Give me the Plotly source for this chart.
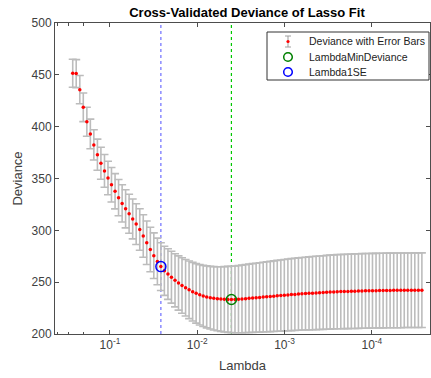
import plotly.graph_objects as go

LOG10_LAMBDA = [
    -0.573, -0.613, -0.654, -0.694, -0.735, -0.775, -0.815, -0.856, -0.896, -0.937,
    -0.977, -1.017, -1.058, -1.098, -1.139, -1.179, -1.219, -1.260, -1.300, -1.341,
    -1.381, -1.421, -1.462, -1.502, -1.543, -1.583, -1.623, -1.664, -1.704, -1.745,
    -1.785, -1.825, -1.866, -1.906, -1.947, -1.987, -2.028, -2.068, -2.108, -2.149,
    -2.189, -2.230, -2.270, -2.310, -2.351, -2.391, -2.432, -2.472, -2.512, -2.553,
    -2.593, -2.634, -2.674, -2.714, -2.755, -2.795, -2.836, -2.876, -2.916, -2.957,
    -2.997, -3.038, -3.078, -3.118, -3.159, -3.199, -3.240, -3.280, -3.320, -3.361,
    -3.401, -3.442, -3.482, -3.522, -3.563, -3.603, -3.644, -3.684, -3.725, -3.765,
    -3.805, -3.846, -3.886, -3.927, -3.967, -4.007, -4.048, -4.088, -4.129, -4.169,
    -4.209, -4.250, -4.290, -4.331, -4.371, -4.411, -4.452, -4.492, -4.533, -4.573,
]

DEVIANCE = [
    451.5, 451.2, 435.7, 418.7, 404.8, 393.0, 382.4, 373.0, 364.7, 357.3,
    350.5, 344.0, 337.7, 331.5, 326.0, 320.8, 316.0, 311.0, 306.0, 300.8,
    294.6, 288.0, 281.5, 275.5, 270.0, 265.0, 261.0, 257.8, 254.8, 251.8,
    249.2, 246.8, 244.6, 242.6, 240.8, 239.2, 237.8, 236.7, 235.8, 235.0,
    234.4, 234.0, 233.7, 233.5, 233.4, 233.3, 233.4, 233.6, 233.8, 234.1,
    234.4, 234.7, 235.0, 235.3, 235.6, 235.9, 236.2, 236.5, 236.8, 237.1,
    237.4, 237.7, 238.0, 238.2, 238.5, 238.8, 239.0, 239.2, 239.4, 239.6,
    239.8, 240.0, 240.2, 240.4, 240.6, 240.8, 240.9, 241.0, 241.1, 241.2,
    241.3, 241.4, 241.5, 241.6, 241.7, 241.8, 241.8, 241.9, 241.9, 242.0,
    242.0, 242.1, 242.1, 242.1, 242.2, 242.2, 242.2, 242.3, 242.3, 242.3,
]

SE = [
    13.5, 13.5, 13.6, 13.8, 14.0, 14.3, 14.6, 15.0, 15.4, 15.8,
    16.2, 16.6, 17.0, 17.5, 18.0, 18.4, 18.8, 19.2, 19.6, 20.0,
    20.5, 21.0, 21.5, 22.0, 22.5, 23.0, 23.7, 24.4, 25.0, 25.6,
    26.2, 26.8, 27.3, 27.8, 28.3, 28.7, 29.1, 29.5, 29.9, 30.2,
    30.6, 30.9, 31.2, 31.5, 31.8, 32.0, 32.2, 32.4, 32.6, 32.8,
    33.0, 33.15, 33.3, 33.45, 33.6, 33.75, 33.9, 34.05, 34.2, 34.35,
    34.5, 34.6, 34.7, 34.8, 34.9, 35.0, 35.1, 35.2, 35.3, 35.4,
    35.5, 35.55, 35.6, 35.65, 35.7, 35.75, 35.8, 35.85, 35.9, 35.95,
    36.0, 36.0, 36.0, 36.0, 36.0, 36.0, 36.0, 36.0, 36.0, 36.0,
    36.0, 36.0, 36.0, 36.0, 36.0, 36.0, 36.0, 36.0, 36.0, 36.0,
]

IDX_MIN = 45
IDX_1SE = 25
LEGEND_LABELS = ["Deviance with Error Bars", "LambdaMinDeviance", "Lambda1SE"]
X_TICKVALS = [1e-1, 1e-2, 1e-3, 1e-4]
X_TICKTEXT = ["10<sup>-1</sup>", "10<sup>-2</sup>", "10<sup>-3</sup>", "10<sup>-4</sup>"]
Y_TICKVALS = [200, 250, 300, 350, 400, 450, 500]

lam = [10 ** v for v in LOG10_LAMBDA]

W, H = 431, 378
ML, MR, MT, MB = 55, 1, 23, 44
PW, PH = W - ML - MR, H - MT - MB


def fx(px):
    return (px - ML) / PW


def fy(py):
    return 1 - (py - MT) / PH


FONT = "Liberation Sans, Arial, Helvetica, sans-serif"
AXC = "#4d4d4d"
GREEN = "rgb(0,128,0)"
BLUE = "rgb(0,0,255)"
EBC = "rgb(188,188,188)"

fig = go.Figure()

fig.add_trace(go.Scatter(
    x=[lam[IDX_1SE], lam[IDX_1SE]], y=[200, 500], mode="lines",
    line=dict(color="rgb(110,110,255)", width=1.2, dash="dot"),
    showlegend=False, hoverinfo="skip"))
fig.add_trace(go.Scatter(
    x=[lam[IDX_MIN], lam[IDX_MIN]], y=[200, 500], mode="lines",
    line=dict(color="rgb(0,200,0)", width=1.2, dash="dot"),
    showlegend=False, hoverinfo="skip"))

fig.add_trace(go.Scatter(
    x=lam, y=DEVIANCE, mode="markers", name=LEGEND_LABELS[0],
    marker=dict(color="red", size=3.5, symbol="circle"),
    error_y=dict(type="data", array=SE, visible=True,
                 color=EBC, thickness=1.6, width=4),
    showlegend=False))

fig.add_trace(go.Scatter(
    x=[lam[IDX_MIN]], y=[DEVIANCE[IDX_MIN]], mode="markers", name=LEGEND_LABELS[1],
    marker=dict(color=GREEN, size=10, symbol="circle-open", line=dict(width=1.5)),
    showlegend=False))
fig.add_trace(go.Scatter(
    x=[lam[IDX_1SE]], y=[DEVIANCE[IDX_1SE]], mode="markers", name=LEGEND_LABELS[2],
    marker=dict(color=BLUE, size=10, symbol="circle-open", line=dict(width=1.5)),
    showlegend=False))

# legend drawn as shapes + text (box 267..429 x 32..80 px)
shapes = []
annotations = []
shapes.append(dict(type="rect", xref="paper", yref="paper",
                   x0=fx(267), x1=fx(429), y0=fy(80), y1=fy(32),
                   line=dict(color="#333333", width=1), fillcolor="white", layer="above"))
rows_y = [41.5, 57, 72]
sx = 288
shapes.append(dict(type="line", xref="paper", yref="paper",
                   x0=fx(sx), x1=fx(sx), y0=fy(47), y1=fy(36),
                   line=dict(color=EBC, width=1.5), layer="above"))
for yy in (36, 47):
    shapes.append(dict(type="line", xref="paper", yref="paper",
                       x0=fx(sx - 3), x1=fx(sx + 3), y0=fy(yy), y1=fy(yy),
                       line=dict(color="rgb(160,160,160)", width=1), layer="above"))
shapes.append(dict(type="circle", xref="paper", yref="paper",
                   xsizemode="pixel", ysizemode="pixel",
                   xanchor=fx(sx), yanchor=fy(rows_y[0]),
                   x0=-1.6, x1=1.6, y0=-1.6, y1=1.6,
                   fillcolor="red", line=dict(color="red", width=0), layer="above"))
for yy, col in ((rows_y[1], GREEN), (rows_y[2], BLUE)):
    shapes.append(dict(type="circle", xref="paper", yref="paper",
                       xsizemode="pixel", ysizemode="pixel",
                       xanchor=fx(sx), yanchor=fy(yy),
                       x0=-4.3, x1=4.3, y0=-4.3, y1=4.3,
                       line=dict(color=col, width=1.5), layer="above"))
for yy, txt in zip(rows_y, LEGEND_LABELS):
    annotations.append(dict(xref="paper", yref="paper", x=fx(307), y=fy(yy),
                            xanchor="left", yanchor="middle", showarrow=False,
                            text=txt, font=dict(family=FONT, size=10.5, color="#222222")))

fig.update_layout(
    width=W, height=H,
    margin=dict(l=ML, r=MR, t=MT, b=MB),
    paper_bgcolor="white", plot_bgcolor="white",
    font=dict(family=FONT, size=12, color="#333333"),
    title=dict(text="<b>Cross-Validated Deviance of Lasso Fit</b>",
               x=247 / W, xanchor="center", xref="container",
               y=1 - 12 / H, yref="container", yanchor="middle",
               font=dict(family=FONT, size=13, color="black")),
    showlegend=False,
    shapes=shapes,
    annotations=annotations,
    xaxis=dict(type="log", range=[-0.37, -4.666],
               tickvals=X_TICKVALS, ticktext=X_TICKTEXT,
               ticks="inside", ticklen=4, tickcolor=AXC,
               minor=dict(ticks="inside", ticklen=2.5, tickcolor=AXC, showgrid=False),
               showline=True, linecolor=AXC, linewidth=1, mirror="ticks",
               showgrid=False, zeroline=False,
               tickfont=dict(family=FONT, size=12, color="#404040"),
               title=dict(text="Lambda", standoff=9,
                          font=dict(family=FONT, size=13, color="#404040"))),
    yaxis=dict(range=[200, 500], tickvals=Y_TICKVALS,
               ticks="inside", ticklen=4, tickcolor=AXC,
               showline=True, linecolor=AXC, linewidth=1, mirror="ticks",
               showgrid=False, zeroline=False,
               tickfont=dict(family=FONT, size=12, color="#404040"),
               title=dict(text="Deviance", standoff=6,
                          font=dict(family=FONT, size=13, color="#404040"))),
)

fig.write_html("out.html")
